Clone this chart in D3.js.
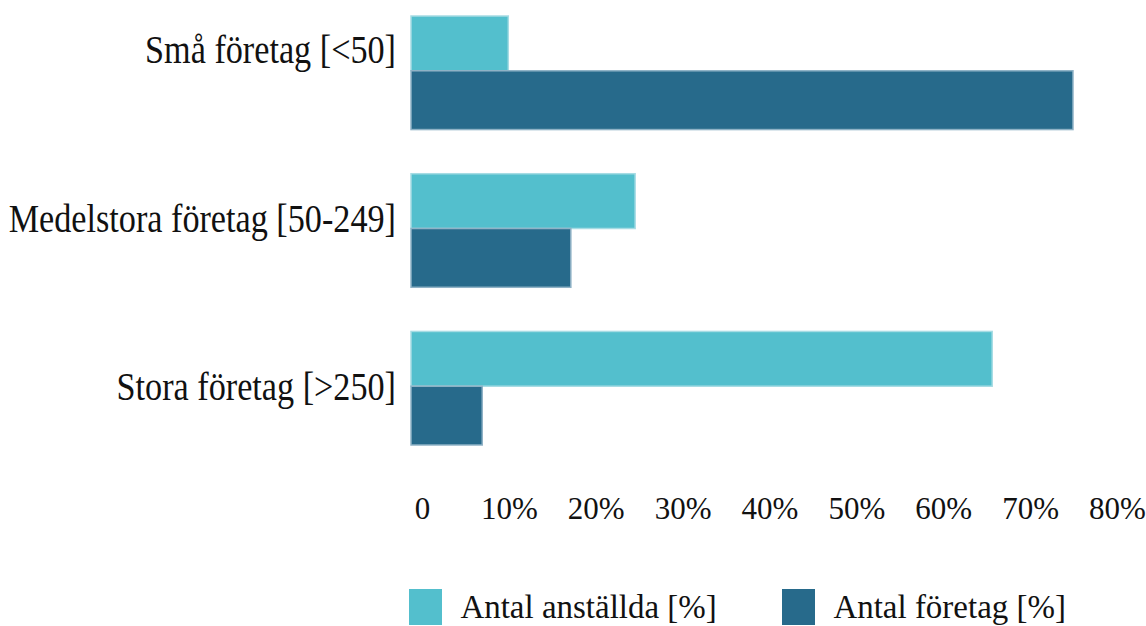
<!DOCTYPE html>
<html>
<head>
<meta charset="utf-8">
<script src="https://cdn.jsdelivr.net/npm/d3@7"></script>
<style>
  html, body { margin: 0; padding: 0; background: #ffffff; }
  svg { display: block; }
  text { font-family: "Liberation Serif", "Times New Roman", serif; fill: #111; }
</style>
</head>
<body>
<svg id="chart" width="1146" height="626"></svg>
<script>
// Company size classes
const categories = ["Små företag [<50]", "Medelstora företag [50-249]", "Stora företag [>250]"];
// Series names
const seriesNames = ["Antal anställda [%]", "Antal företag [%]"];
// Share of employees per size class (%)
const employeesPct = [11.2, 25.8, 66.9];
// Share of companies per size class (%)
const companiesPct = [76.2, 18.4, 8.2];
// Axis ticks
const tickValues = [0, 10, 20, 30, 40, 50, 60, 70, 80];
const tickLabels = ["0", "10%", "20%", "30%", "40%", "50%", "60%", "70%", "80%"];

const colors = ["#53bfcd", "#276a8b"];
const strokes = ["#a6dce4", "#8fb2c6"];

const svg = d3.select("#chart");

const x = d3.scaleLinear().domain([0, 80]).range([411, 1106]);
const y = d3.scaleBand().domain(categories).range([16, 445]).paddingInner(0.28).paddingOuter(0);
const ySub = d3.scaleBand().domain(seriesNames).range([-2, y.bandwidth() + 2]).paddingInner(0);
const labelY = d3.scalePoint().domain(categories).range([63, 400]);

const rows = categories.map((c, i) => ({
  cat: c,
  values: [
    { series: seriesNames[0], value: employeesPct[i], k: 0 },
    { series: seriesNames[1], value: companiesPct[i], k: 1 }
  ]
}));

// Bars (the top bar of each pair is slightly shorter than the lower one)
const groups = svg.append("g").selectAll("g")
  .data(rows).join("g")
  .attr("transform", d => `translate(0,${y(d.cat)})`);

const barTop = d => d.k === 0 ? 0 : ySub(d.series) - 2;
const barBottom = d => d.k === 0 ? ySub(seriesNames[1]) - 2 : y.bandwidth();

groups.selectAll("rect")
  .data(d => d.values).join("rect")
  .attr("x", x(0))
  .attr("y", barTop)
  .attr("width", d => x(d.value) - x(0))
  .attr("height", d => barBottom(d) - barTop(d))
  .attr("fill", d => colors[d.k])
  .attr("stroke", d => strokes[d.k])
  .attr("stroke-width", 1.5);

// Category labels
svg.append("g").selectAll("text")
  .data(categories).join("text")
  .attr("text-anchor", "end")
  .attr("transform", d => `translate(396,${labelY(d)}) scale(0.855,1)`)
  .style("font-size", "40px")
  .text(d => d);

// X axis (labels only)
const xAxis = d3.axisBottom(x)
  .tickValues(tickValues)
  .tickSize(0)
  .tickPadding(0)
  .tickFormat((d, i) => tickLabels[i]);

const axisG = svg.append("g")
  .attr("transform", "translate(11,497)")
  .call(xAxis);
axisG.select(".domain").remove();
axisG.selectAll("text")
  .attr("dy", "0.71em")
  .style("font-family", "\"Liberation Serif\", serif")
  .style("font-size", "31px")
  .attr("fill", "#111");

// Legend
const legend = svg.append("g").selectAll("g")
  .data(seriesNames).join("g")
  .attr("transform", (d, i) => `translate(${409 + i * 373},589)`);
legend.append("rect")
  .attr("width", 33).attr("height", 36)
  .attr("fill", (d, i) => colors[i]);
legend.append("text")
  .attr("x", 53).attr("y", 29)
  .attr("transform", "scale(0.97,1)")
  .style("font-size", "34px")
  .text(d => d);
</script>
</body>
</html>
